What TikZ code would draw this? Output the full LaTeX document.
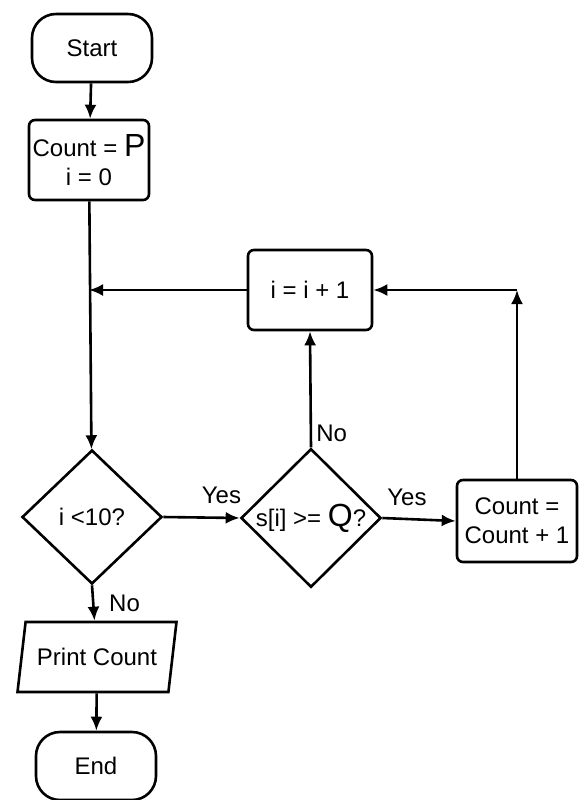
\documentclass[tikz,border=0pt]{standalone}
\usepackage{fontspec}
\setmainfont{Liberation Sans}
\usetikzlibrary{shapes.geometric,arrows.meta}
\newcommand{\bigsym}[1]{{\fontsize{16}{16}\selectfont #1}}
\begin{document}
\begin{tikzpicture}[x=0.5pt,y=-0.5pt,line width=1.3pt,font=\fontsize{12}{14.5}\selectfont,
	terminal/.style={rounded corners=12pt,minimum width=60pt,minimum height=34pt,draw,inner sep=1pt},
	process/.style={rounded corners=3pt,minimum width=60pt,minimum height=40pt,draw,align=center,inner sep=1pt},
	decision/.style={diamond,draw,minimum width=70pt,minimum height=67pt,inner sep=0pt},
	io/.style={trapezium,trapezium left angle=72,trapezium right angle=108,trapezium stretches=true,minimum width=80pt,minimum height=35pt,draw,inner sep=1pt},
	arr/.style={-{Latex[length=7pt,width=6pt]}}]

	\useasboundingbox (0,0) rectangle (585,800);

	\node[terminal] (start) at (92,48) {Start};
	\node[process] (init) at (89,160) {Count = \bigsym{P}\\i = 0};
	\node[decision] (test) at (92,517) {i <10?};
	\node[io] (print) at (97,657) {Print Count};
	\node[terminal] (end) at (96,766) {End};
	\node[process,minimum width=62pt] (inc) at (310,290) {i = i + 1};
	\node[decision] (cmp) at (311,518) {s[i] >= \bigsym{Q}?};
	\node[process,minimum height=41pt] (count) at (517,521) {Count =\\Count + 1};

	\coordinate (join) at (init.south |- inc.west);
	\coordinate (corner) at (count.north |- inc.east);

	\draw[arr] (start) -- (init);
	\draw[arr] (init) -- (test);
	\draw[arr] (inc.west) -- (join);
	\draw[arr] (test.east) -- node[above, xshift=10pt, yshift=3pt] {Yes} (cmp.west);
	\draw[arr] (cmp.north) -- (inc.south);
	\node[anchor=south west, inner sep=2pt] (nolbl) at (cmp.north) {No};
	\draw[arr] (cmp.east) -- node[above, xshift=-6pt, yshift=3pt] {Yes} (count.west);
	\draw[arr] (count.north) -- (corner);
	\draw[arr] (corner) -- (inc.east);
	\draw[arr] (test.south) -- node[right, xshift=4pt] {No} (print);
	\draw[arr] (print) -- (end);

\end{tikzpicture}
\end{document}
